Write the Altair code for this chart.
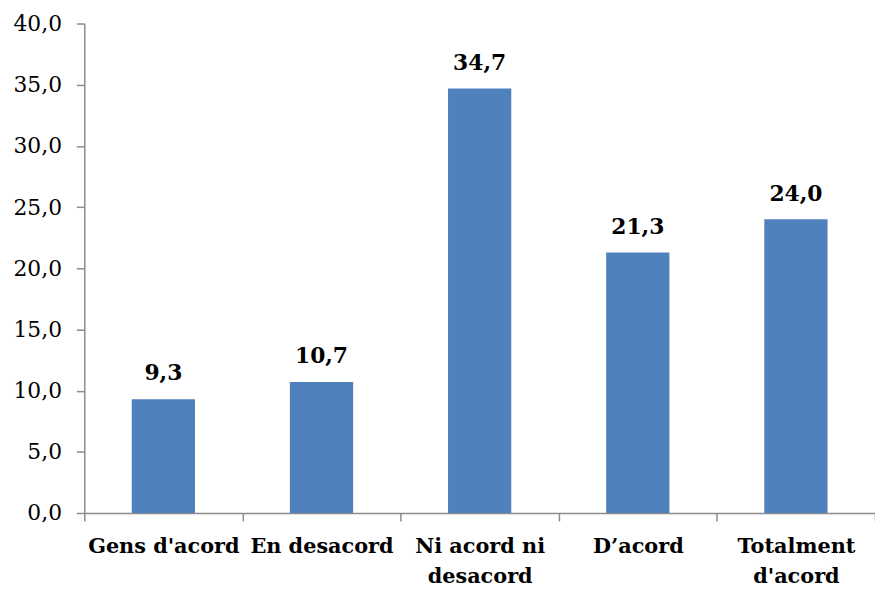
import altair as alt
import pandas as pd

categories = ["Gens d'acord", "En desacord", "Ni acord ni|desacord", "D’acord", "Totalment|d'acord"]
values = [9.3, 10.7, 34.7, 21.3, 24.0]
y_ticks = [0, 5, 10, 15, 20, 25, 30, 35, 40]

df = pd.DataFrame({"cat": categories, "val": values})

FONT = "DejaVu Serif"
BLUE = "#4F81BD"
GRAY = "#8C8C8C"

x = alt.X(
    "cat:N",
    sort=categories,
    scale=alt.Scale(paddingInner=0, paddingOuter=0),
    axis=alt.Axis(
        title=None,
        labelAngle=0,
        labelExpr="split(datum.label, '|')",
        labelFont=FONT,
        labelFontSize=21,
        labelFontWeight="bold",
        labelColor="black",
        labelPadding=15,
        labelLineHeight=30,
        labelBaseline="top",
        tickBand="extent",
        tickSize=8,
        tickColor=GRAY,
        domainColor=GRAY,
        domainWidth=1.5,
        tickWidth=1.5,
    ),
)

y = alt.Y(
    "val:Q",
    scale=alt.Scale(domain=[0, 40], nice=False),
    axis=alt.Axis(
        title=None,
        values=y_ticks,
        labelExpr="replace(format(datum.value, '.1f'), '.', ',')",
        labelFont=FONT,
        labelFontSize=22,
        labelColor="black",
        labelPadding=15,
        tickSize=8,
        tickColor=GRAY,
        domainColor=GRAY,
        domainWidth=1.5,
        tickWidth=1.5,
        grid=False,
    ),
)

bars = alt.Chart(df).mark_bar(color=BLUE, width=alt.RelativeBandSize(0.4)).encode(x=x, y=y)

labels = (
    alt.Chart(df)
    .transform_calculate(lbl="replace(format(datum.val, '.1f'), '.', ',')")
    .mark_text(font=FONT, fontSize=22, fontWeight="bold", color="black", baseline="alphabetic", dy=-19)
    .encode(x=alt.X("cat:N", sort=categories), y="val:Q", text="lbl:N")
)

chart = (
    alt.layer(bars, labels)
    .properties(
        width=798,
        height=494,
        autosize=alt.AutoSizeParams(type="none"),
        padding={"left": 77, "top": 13, "right": 0, "bottom": 75},
    )
    .configure_view(stroke=None)
)

chart.save("out.html", embed_options={"renderer": "svg", "actions": False})
